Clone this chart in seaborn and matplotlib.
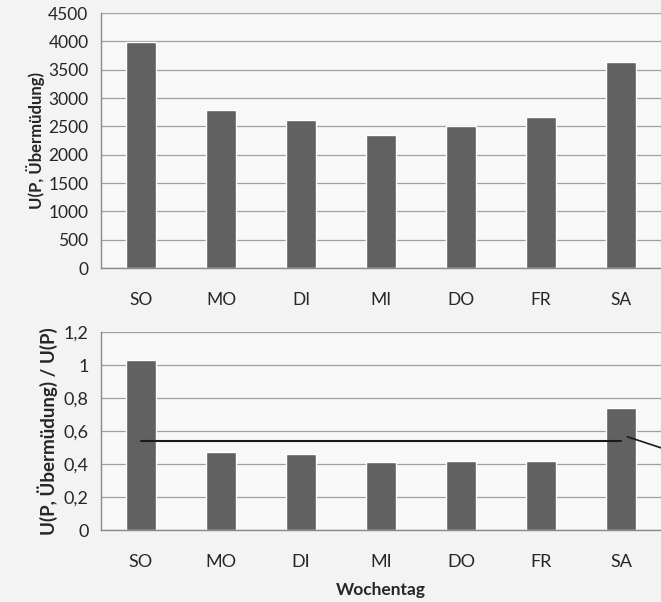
import matplotlib
matplotlib.use("Agg")
import matplotlib.pyplot as plt
import seaborn as sns
import pandas as pd
import numpy as np

# data
tage = ["SO", "MO", "DI", "MI", "DO", "FR", "SA"]
uebermuedung = [3995, 2790, 2615, 2350, 2505, 2670, 3635]
anteil = [1.03, 0.47, 0.46, 0.41, 0.42, 0.42, 0.74]
mittel_linie = [0.54, 0.54]
pfeil_x = [6.08, 6.55]
pfeil_y = [0.565, 0.49]

sns.set_style("white")
plt.rcParams['font.family'] = ['Lato', 'DejaVu Sans']

bg = "#f3f3f3"
bar_col = "#616161"
grid_col = "#a0a0a0"

df = pd.DataFrame({"Tag": tage, "U": uebermuedung, "R": anteil})

fig = plt.figure(figsize=(6.61, 6.02), dpi=100, facecolor=bg)
ax1 = fig.add_axes([0.1528, 0.5548, 0.8472, 0.4236])
ax2 = fig.add_axes([0.1528, 0.1196, 0.8472, 0.3289])


def style(ax, ymax, step, fmt, fs):
    ax.set_facecolor("#f8f8f8")
    ax.set_xlim(-0.5, 6.5)
    ax.set_ylim(0, ymax)
    ticks = np.arange(0, ymax + step / 2, step)
    ax.set_yticks(ticks)
    ax.set_yticklabels([fmt(t) for t in ticks], fontsize=fs)
    ax.yaxis.grid(True, color=grid_col, lw=0.9)
    ax.set_axisbelow(True)
    for s in ["top", "right"]:
        ax.spines[s].set_visible(False)
    for s in ["left", "bottom"]:
        ax.spines[s].set_color("#8a8a8a")
        ax.spines[s].set_linewidth(1.0)
    ax.set_xticks(range(len(tage)))
    ax.set_xticklabels(tage, fontsize=fs)
    ax.set_xticks(np.arange(0.5, 6.5, 1), minor=True)
    ax.tick_params(axis="x", which="major", length=0, pad=17)
    ax.tick_params(axis="x", which="minor", length=5, color="#8a8a8a", direction="out")
    ax.tick_params(axis="y", length=5, color="#8a8a8a", direction="out", pad=4)


def komma(t):
    if t == 0:
        return "0"
    if abs(t - round(t)) < 1e-9:
        return str(int(round(t)))
    return f"{t:.1f}".replace(".", ",")


sns.barplot(data=df, x="Tag", y="U", color=bar_col, width=0.38, saturation=1, ax=ax1)
style(ax1, 4500, 500, lambda t: f"{int(t)}", 12.5)
ax1.set_xlabel("")
ax1.set_ylabel("U(P, Übermüdung)", fontsize=12, fontweight="bold", labelpad=2)

sns.barplot(data=df, x="Tag", y="R", color=bar_col, width=0.38, saturation=1, ax=ax2)
style(ax2, 1.2, 0.2, komma, 13)
ax2.set_ylabel("U(P, Übermüdung) / U(P)", fontsize=13.5, fontweight="bold", labelpad=4)
ax2.set_xlabel("Wochentag", fontsize=12.5, fontweight="bold", labelpad=9)

ax2.plot([0, 6], mittel_linie, color="#1a1a1a", lw=1.5)
ax2.plot(pfeil_x, pfeil_y, color="#1a1a1a", lw=1.2, clip_on=False)

fig.savefig("out.png", dpi=100, facecolor=bg)
